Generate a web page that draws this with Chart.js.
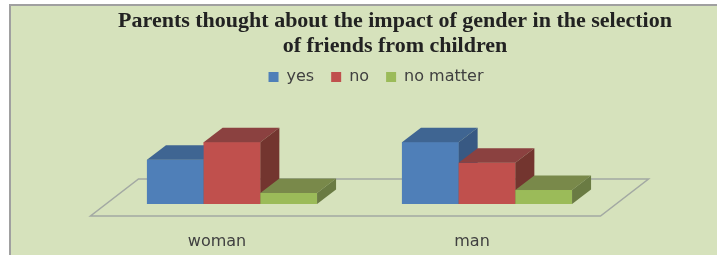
<!DOCTYPE html>
<html lang="en">
<head>
  <meta charset="utf-8">
  <title>Parents thought about the impact of gender</title>
  <script src="https://cdn.jsdelivr.net/npm/chart.js@4.4.1/dist/chart.umd.min.js"></script>
  <style>
    html, body { margin: 0; padding: 0; background: #ffffff; }
    #wrap { width: 717px; height: 255px; position: relative; }
  </style>
</head>
<body>
  <div id="wrap"><canvas id="chart"></canvas></div>
  <script>
    // data
    const categories = ['woman', 'man'];
    const seriesNames = ['yes', 'no', 'no matter'];
    const yesValues = [30, 42];
    const noValues = [42, 28];
    const noMatterValues = [7.5, 9.5];
    const titleLines = ['Parents thought about the impact of gender in the selection', 'of friends from children'];

    // front / top / side colours for each series
    const frontColors = ['#4f7fb8', '#c0504d', '#9bbb59'];
    const topColors = ['#3f6592', '#8b4140', '#79894a'];
    const sideColors = ['#385983', '#73352f', '#6a7b43'];

    const DX = 19, DY = 14.5; // bar depth

    // background box with grey edge on left and top
    const boxBg = {
      id: 'boxBg',
      beforeDraw(chart) {
        const ctx = chart.ctx;
        ctx.save();
        ctx.fillStyle = '#ffffff';
        ctx.fillRect(0, 0, chart.width, chart.height);
        ctx.fillStyle = '#d6e2bc';
        ctx.fillRect(10, 5, chart.width - 10, chart.height - 5);
        ctx.strokeStyle = '#a0a0a0';
        ctx.lineWidth = 2;
        ctx.beginPath();
        ctx.moveTo(10, chart.height);
        ctx.lineTo(10, 5);
        ctx.lineTo(chart.width, 5);
        ctx.stroke();
        ctx.restore();
      }
    };

    // legend sits a little left of the title in the original
    const legendShift = {
      id: 'legendShift',
      afterLayout(chart) {
        chart.legend.left -= 19;
        chart.legend.right -= 19;
      }
    };

    // floor of the 3d plot
    const floor = {
      id: 'floor',
      beforeDatasetsDraw(chart) {
        const { ctx, chartArea: a } = chart;
        ctx.save();
        ctx.strokeStyle = '#a3a9a3';
        ctx.lineWidth = 1.5;
        ctx.beginPath();
        ctx.moveTo(a.left - 14, a.bottom + 12);
        ctx.lineTo(a.right - 14, a.bottom + 12);
        ctx.lineTo(a.right + 34, a.bottom - 25);
        ctx.lineTo(a.left + 34, a.bottom - 25);
        ctx.closePath();
        ctx.stroke();
        ctx.restore();
      }
    };

    // redraw every bar as a box, left to right, so right faces hide correctly
    const boxes = {
      id: 'boxes',
      afterDatasetsDraw(chart) {
        const ctx = chart.ctx;
        ctx.save();
        categories.forEach((c, i) => {
          chart.data.datasets.forEach((ds, d) => {
            const bar = chart.getDatasetMeta(d).data[i];
            const l = bar.x - bar.width / 2, r = bar.x + bar.width / 2;
            const t = bar.y, b = bar.base;
            ctx.fillStyle = frontColors[d];
            ctx.fillRect(l, t, r - l, b - t);
            ctx.fillStyle = topColors[d];
            ctx.beginPath();
            ctx.moveTo(l, t);
            ctx.lineTo(r, t);
            ctx.lineTo(r + DX, t - DY);
            ctx.lineTo(l + DX, t - DY);
            ctx.closePath();
            ctx.fill();
            ctx.fillStyle = sideColors[d];
            ctx.beginPath();
            ctx.moveTo(r, t);
            ctx.lineTo(r + DX, t - DY);
            ctx.lineTo(r + DX, b - DY);
            ctx.lineTo(r, b);
            ctx.closePath();
            ctx.fill();
          });
        });
        ctx.restore();
      }
    };

    new Chart(document.getElementById('chart'), {
      type: 'bar',
      data: {
        labels: categories,
        datasets: [
          { label: seriesNames[0], data: yesValues, backgroundColor: frontColors[0] },
          { label: seriesNames[1], data: noValues, backgroundColor: frontColors[1] },
          { label: seriesNames[2], data: noMatterValues, backgroundColor: frontColors[2] }
        ]
      },
      options: {
        responsive: true,
        maintainAspectRatio: false,
        animation: false,
        layout: { padding: { left: 73, right: 0, top: 0, bottom: 4 } },
        datasets: { bar: { categoryPercentage: 0.667, barPercentage: 1, borderWidth: 0 } },
        plugins: {
          title: {
            display: true,
            text: titleLines,
            color: '#222222',
            font: { family: 'Liberation Serif', size: 22, weight: 'bold', lineHeight: 25 / 22 },
            padding: { top: 9, bottom: -7 }
          },
          legend: {
            labels: {
              boxWidth: 10,
              boxHeight: 10,
              padding: 17,
              color: '#404040',
              font: { family: 'DejaVu Sans', size: 16 }
            }
          },
          tooltip: { enabled: false }
        },
        scales: {
          x: {
            grid: { display: false, drawTicks: false },
            border: { display: false },
            ticks: {
              padding: 28,
              labelOffset: -15,
              color: '#404040',
              font: { family: 'DejaVu Sans', size: 16 }
            },
            afterFit(s) { s.height = 47; }
          },
          y: {
            position: 'left',
            min: 0,
            max: 74,
            grid: { display: false, drawTicks: false },
            border: { display: false },
            ticks: { display: false },
            afterFit(s) { s.width = 31.5; }
          },
          yRight: {
            type: 'linear',
            position: 'right',
            display: true,
            grid: { display: false, drawTicks: false },
            border: { display: false },
            ticks: { display: false },
            afterFit(s) { s.width = 102.5; }
          }
        }
      },
      plugins: [boxBg, legendShift, floor, boxes]
    });
  </script>
</body>
</html>
